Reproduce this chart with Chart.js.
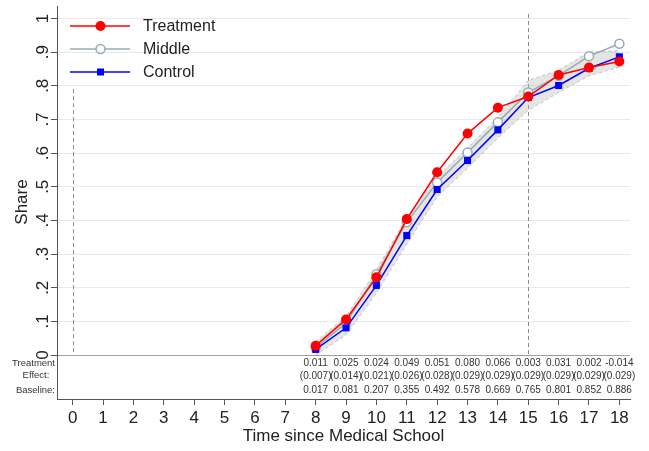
<!DOCTYPE html>
<html>
<head>
<meta charset="utf-8">
<script src="https://cdn.jsdelivr.net/npm/chart.js@4.4.1/dist/chart.umd.min.js"></script>
<style>
  html, body { margin: 0; padding: 0; background: #fff; }
  #wrap { width: 649px; height: 451px; }
</style>
</head>
<body>
<div id="wrap"><canvas id="shareChart" width="649" height="451"></canvas></div>
<script>
// ============================================================
//  DATA
// ============================================================
const years     = [8, 9, 10, 11, 12, 13, 14, 15, 16, 17, 18];
const treatment = [0.028, 0.106, 0.231, 0.404, 0.543, 0.658, 0.735, 0.768, 0.832, 0.854, 0.872];
const middle    = [0.022, 0.095, 0.240, 0.395, 0.513, 0.602, 0.692, 0.780, 0.830, 0.888, 0.925];
const control   = [0.017, 0.081, 0.207, 0.355, 0.492, 0.578, 0.669, 0.765, 0.801, 0.852, 0.886];
const bandLow   = [0.000, 0.060, 0.184, 0.330, 0.470, 0.555, 0.645, 0.727, 0.780, 0.830, 0.855];
const bandHigh  = [0.040, 0.115, 0.252, 0.410, 0.530, 0.615, 0.706, 0.816, 0.846, 0.900, 0.905];

const effectLabels   = ['0.011', '0.025', '0.024', '0.049', '0.051', '0.080', '0.066', '0.003', '0.031', '0.002', '-0.014'];
const seLabels       = ['(0.007)', '(0.014)', '(0.021)', '(0.026)', '(0.028)', '(0.029)', '(0.029)', '(0.029)', '(0.029)', '(0.029)', '(0.029)'];
const baselineLabels = ['0.017', '0.081', '0.207', '0.355', '0.492', '0.578', '0.669', '0.765', '0.801', '0.852', '0.886'];

const xTickValues = [0, 1, 2, 3, 4, 5, 6, 7, 8, 9, 10, 11, 12, 13, 14, 15, 16, 17, 18];
const yTickValues = [0, 0.1, 0.2, 0.3, 0.4, 0.5, 0.6, 0.7, 0.8, 0.9, 1];
const yTickLabels = ['0', '.1', '.2', '.3', '.4', '.5', '.6', '.7', '.8', '.9', '1'];

const FONT = '"Liberation Sans", Arial, sans-serif';
const pts = (arr) => years.map((x, i) => ({ x: x, y: arr[i] }));

// ============================================================
//  EXTRA DRAWING : dashed lines, y labels, table, legend
// ============================================================
const extrasPlugin = {
  id: 'extras',
  beforeDatasetsDraw(chart) {
    const { ctx, scales: { x, y }, chartArea } = chart;
    ctx.save();
    ctx.strokeStyle = '#8a8a8a';
    ctx.lineWidth = 1;
    ctx.setLineDash([4, 3]);
    // x = 0 (starts under legend)
    ctx.beginPath();
    ctx.moveTo(Math.round(x.getPixelForValue(0)) + 0.5, y.getPixelForValue(0.79));
    ctx.lineTo(Math.round(x.getPixelForValue(0)) + 0.5, y.getPixelForValue(0));
    ctx.stroke();
    // x = 15
    ctx.beginPath();
    ctx.moveTo(Math.round(x.getPixelForValue(15)) + 0.5, chartArea.top + 8);
    ctx.lineTo(Math.round(x.getPixelForValue(15)) + 0.5, y.getPixelForValue(0));
    ctx.stroke();
    ctx.restore();
  },
  afterDraw(chart) {
    const { ctx, scales: { x, y }, chartArea } = chart;
    ctx.save();
    ctx.fillStyle = '#222';

    // y tick labels (rotated)
    ctx.font = '17px ' + FONT;
    ctx.textAlign = 'center';
    ctx.textBaseline = 'middle';
    yTickValues.forEach((v, i) => {
      ctx.save();
      ctx.translate(43, y.getPixelForValue(v));
      ctx.rotate(-Math.PI / 2);
      ctx.fillText(yTickLabels[i], 0, 0);
      ctx.restore();
    });

    // y title
    ctx.save();
    ctx.translate(22, 202);
    ctx.rotate(-Math.PI / 2);
    ctx.fillText('Share', 0, 0);
    ctx.restore();

    // x title
    ctx.fillText('Time since Medical School', (chartArea.left + chartArea.right) / 2, 436);

    // table under the zero line
    const y0 = y.getPixelForValue(0);
    ctx.fillStyle = '#333';
    ctx.font = '9.5px ' + FONT;
    ctx.textAlign = 'right';
    ctx.fillText('Treatment', 55, y0 + 8);
    ctx.fillText('Baseline:', 55, y0 + 35);
    ctx.textAlign = 'center';
    ctx.fillText('Effect:', 36, y0 + 20);

    ctx.font = '10px ' + FONT;
    years.forEach((yr, i) => {
      const px = x.getPixelForValue(yr);
      ctx.fillText(effectLabels[i], px, y0 + 8.5);
      ctx.fillText(seLabels[i], px, y0 + 21);
      ctx.fillText(baselineLabels[i], px, y0 + 35.5);
    });

    // legend
    const items = [
      { label: 'Treatment', color: '#ff0000', style: 'dot' },
      { label: 'Middle',    color: '#93adb3', style: 'ring' },
      { label: 'Control',   color: '#0000ff', style: 'square' }
    ];
    ctx.font = '16px ' + FONT;
    ctx.textAlign = 'left';
    items.forEach((it, i) => {
      const ly = 26 + i * 23;
      ctx.strokeStyle = it.color;
      ctx.lineWidth = 1.5;
      ctx.beginPath();
      ctx.moveTo(70, ly);
      ctx.lineTo(130, ly);
      ctx.stroke();
      if (it.style === 'dot') {
        ctx.fillStyle = it.color;
        ctx.beginPath();
        ctx.arc(100.5, ly, 5, 0, Math.PI * 2);
        ctx.fill();
      } else if (it.style === 'ring') {
        ctx.fillStyle = '#fff';
        ctx.beginPath();
        ctx.arc(100.5, ly, 4.5, 0, Math.PI * 2);
        ctx.fill();
        ctx.stroke();
      } else {
        ctx.fillStyle = it.color;
        ctx.fillRect(97, ly - 3.5, 7, 7);
      }
      ctx.fillStyle = '#222';
      ctx.textBaseline = 'middle';
      ctx.fillText(it.label, 143, ly + 1);
    });
    ctx.restore();
  }
};

// ============================================================
//  CHART
// ============================================================
new Chart(document.getElementById('shareChart').getContext('2d'), {
  type: 'line',
  data: {
    datasets: [
      {
        label: 'band low',
        data: pts(bandLow),
        borderColor: 'rgba(170,170,170,0.7)',
        borderWidth: 1,
        borderDash: [3, 3],
        pointRadius: 0,
        fill: false,
        order: 10
      },
      {
        label: 'band high',
        data: pts(bandHigh),
        borderColor: 'rgba(170,170,170,0.7)',
        borderWidth: 1,
        borderDash: [3, 3],
        backgroundColor: 'rgba(190,190,190,0.4)',
        pointRadius: 0,
        fill: '-1',
        order: 9
      },
      {
        label: 'Middle',
        data: pts(middle),
        borderColor: '#93adb3',
        borderWidth: 1.5,
        pointStyle: 'circle',
        pointRadius: 4.5,
        pointBorderWidth: 1.5,
        pointBorderColor: '#93adb3',
        pointBackgroundColor: '#fff',
        fill: false,
        order: 3
      },
      {
        label: 'Control',
        data: pts(control),
        borderColor: '#0000ff',
        borderWidth: 1.5,
        pointStyle: 'rect',
        pointRadius: 5,
        pointBorderWidth: 0,
        pointBackgroundColor: '#0000ff',
        fill: false,
        order: 2
      },
      {
        label: 'Treatment',
        data: pts(treatment),
        borderColor: '#ff0000',
        borderWidth: 1.5,
        pointStyle: 'circle',
        pointRadius: 5,
        pointBorderWidth: 0,
        pointBackgroundColor: '#ff0000',
        fill: false,
        order: 1
      }
    ]
  },
  options: {
    responsive: false,
    animation: false,
    devicePixelRatio: 1,
    layout: { padding: { left: 0, right: 19, top: 5, bottom: 0 } },
    plugins: {
      legend: { display: false },
      tooltip: { enabled: false }
    },
    scales: {
      x: {
        type: 'linear',
        min: -0.517,
        max: 18.35,
        afterBuildTicks: (s) => { s.ticks = xTickValues.map((v) => ({ value: v })); },
        afterFit: (s) => { s.height = 52; },
        grid: { drawOnChartArea: false, drawTicks: true, tickLength: 6, tickColor: '#555' },
        border: { color: '#555', width: 1 },
        ticks: {
          autoSkip: false,
          maxRotation: 0,
          padding: 3,
          color: '#222',
          font: { family: FONT, size: 17 },
          callback: (v) => String(v)
        }
      },
      y: {
        type: 'linear',
        min: -0.1304,
        max: 1.037,
        afterBuildTicks: (s) => { s.ticks = yTickValues.map((v) => ({ value: v })); },
        afterFit: (s) => { s.width = 57; },
        grid: {
          drawTicks: true,
          tickLength: 6,
          tickColor: '#555',
          color: (c) => (c.tick && c.tick.value === 0 ? '#a0a0a0' : '#e9e9e9'),
          lineWidth: 1
        },
        border: { color: '#555', width: 1 },
        ticks: { display: false }
      }
    }
  },
  plugins: [extrasPlugin]
});
</script>
</body>
</html>
